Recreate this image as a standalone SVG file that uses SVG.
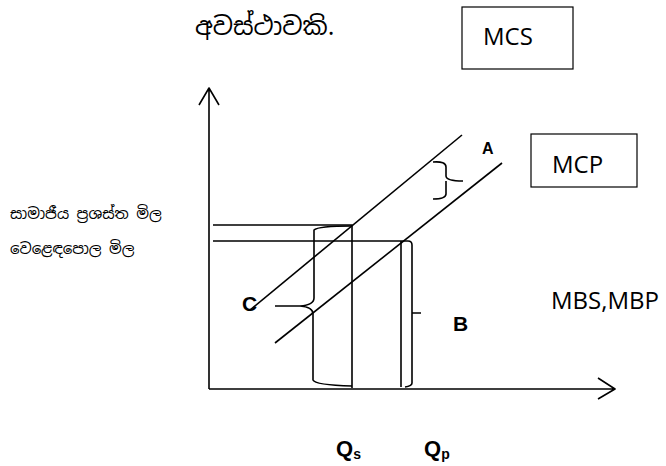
<svg xmlns="http://www.w3.org/2000/svg" width="666" height="466" viewBox="0 0 666 466">
<style>
.ln{fill:none;stroke:#000;stroke-width:1.6;stroke-linecap:butt;stroke-linejoin:round}
.si{font-family:"Noto Sans Sinhala","Iskoola Pota","Noto Sans",sans-serif;fill:#000}
.lb{font-family:"Open Sans","Liberation Sans",sans-serif;font-size:24px;fill:#000}
.bd{font-family:"Liberation Sans","Open Sans",sans-serif;font-weight:bold;fill:#000}
.box{fill:#fff;stroke:#000;stroke-width:1.2}
</style>
<rect width="666" height="466" fill="#fff"/>
<g id="title"><text class="si" x="195" y="35" font-size="25">අවස්ථාවකි.</text></g>
<g id="mcs"><rect class="box" x="462" y="7" width="111" height="62"/><text class="lb" x="483" y="45">MCS</text></g>
<g id="mcp"><rect class="box" x="531" y="134" width="106" height="53"/><text class="lb" x="552" y="173">MCP</text></g>
<g id="mbs"><text class="lb" x="551" y="309">MBS,MBP</text></g>
<g id="label-social"><text class="si" x="10" y="219" font-size="15">සාමාජීය ප්‍රශස්ත මිල</text></g>
<g id="label-market"><text class="si" x="10" y="254" font-size="15">වෙළෙඳපොල මිල</text></g>
<g id="label-a"><text class="bd" x="482" y="154" font-size="16">A</text></g>
<g id="label-b"><text class="bd" x="453" y="331" font-size="21">B</text></g>
<g id="label-c"><text class="bd" x="242" y="311" font-size="21">C</text></g>
<g id="label-qs"><text class="bd" x="336" y="456" font-size="22">Q<tspan font-size="14" dy="3">s</tspan></text></g>
<g id="label-qp"><text class="bd" x="424" y="456" font-size="22">Q<tspan font-size="14" dy="3">p</tspan></text></g>
<g id="connectors">
<path class="ln" d="M209,389 V88 M199,105 L209,88 L219,105"/>
<path class="ln" d="M209,389 H615 M598,378 L615,389 L598,399"/>
<path class="ln" d="M250,310 L462,135"/>
<path class="ln" d="M275,343 L502,163"/>
<path class="ln" d="M213,225 H352 V388"/>
<path class="ln" d="M213,241 H408 Q412,241 412,245 V383 Q412,386 405,387 M412,313 H421"/>
<path class="ln" d="M401,241 V387"/>
<path class="ln" d="M352,226 Q318,226 314,230 V298 Q314,305 300,306 H275 M300,306 Q313,307 313,314 V380 Q315,385 352,386"/>
<path class="ln" d="M433,162 Q446,161 446,167 V176 Q446,181 463,181 M446,181 Q446,184 446,186 V194 Q446,199 433,199"/>
</g>
</svg>
